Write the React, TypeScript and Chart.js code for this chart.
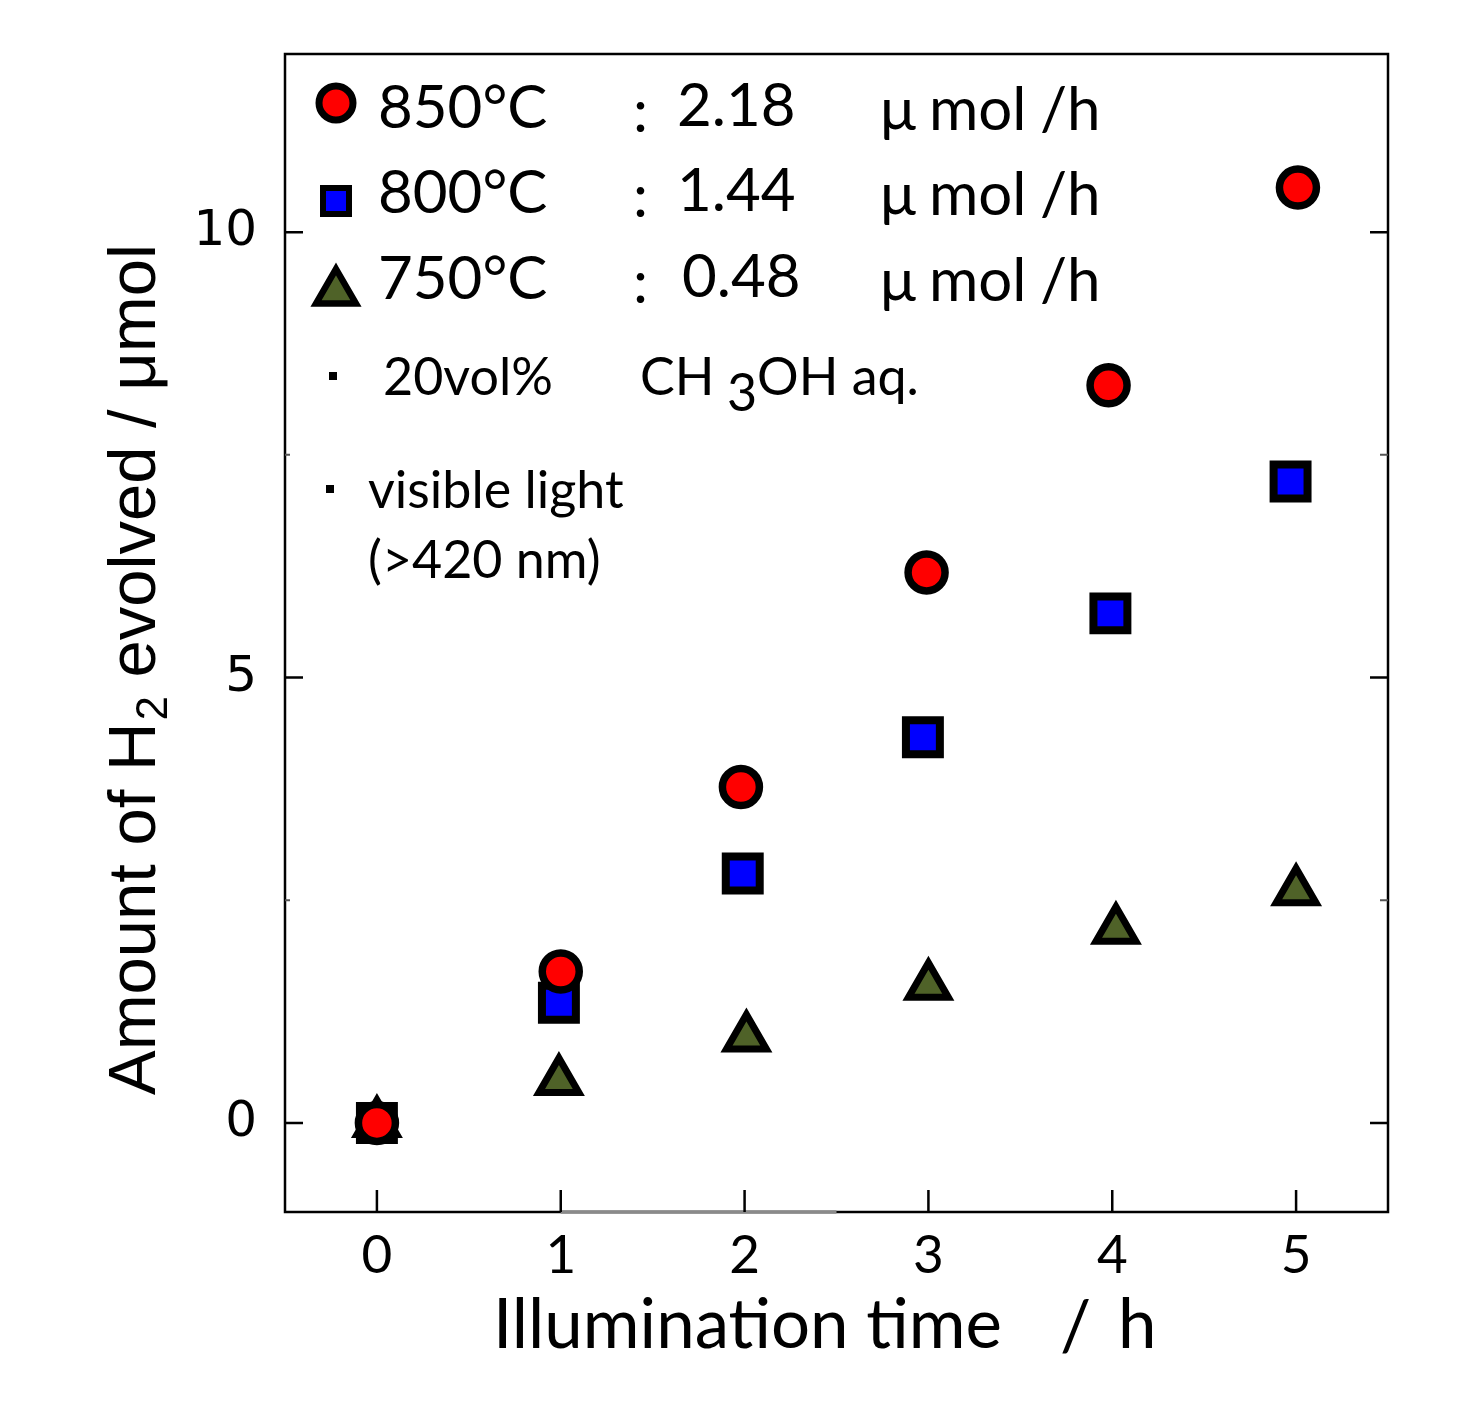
import React, { useEffect, useRef } from "react";
import { Chart, registerables } from "chart.js";

Chart.register(...registerables);

// data (x = illumination time / h, y = H2 / umol)
const x850 = [0, 1.0, 1.98, 2.99, 3.98, 5.01];
const h2At850 = [0, 1.7, 3.77, 6.18, 8.28, 10.5];
const x800 = [0, 0.99, 1.99, 2.97, 3.99, 4.97];
const h2At800 = [0, 1.35, 2.8, 4.33, 5.72, 7.2];
const x750 = [0, 0.99, 2.01, 3.0, 4.02, 5.0];
const h2At750 = [0, 0.47, 0.96, 1.54, 2.17, 2.6];

const xTicks = [0, 1, 2, 3, 4, 5];
const yTicks = [0, 5, 10];
const yMinorTicks = [2.5, 7.5];

const seriesNames = ["850\u00b0C", "800\u00b0C", "750\u00b0C"];
const rates = ["2.18", "1.44", "0.48"];

const RED = "#ff0000";
const BLUE = "#0000ff";
const OLIVE = "#4f6228";
const CALIBRI = "Lato, 'Open Sans', sans-serif";
const ARIAL = "'Liberation Sans', Arial, sans-serif";

const toPoints = (xs: number[], ys: number[]) => xs.map((x, i) => ({ x, y: ys[i] }));

function marker(ctx: CanvasRenderingContext2D, kind: string, x: number, y: number, r: number, fill: string, lw: number) {
    ctx.save();
    ctx.beginPath();
    if (kind === "circle") {
        ctx.arc(x, y, r, 0, Math.PI * 2);
    } else if (kind === "rect") {
        ctx.rect(x - r, y - r, r * 2, r * 2);
    } else {
        ctx.moveTo(x, y - r);
        ctx.lineTo(x + r * 0.866, y + r / 2);
        ctx.lineTo(x - r * 0.866, y + r / 2);
        ctx.closePath();
    }
    ctx.fillStyle = fill;
    ctx.fill();
    ctx.lineWidth = lw;
    ctx.strokeStyle = "#000";
    ctx.lineJoin = "miter";
    ctx.stroke();
    ctx.restore();
}

const framePlugin = {
    id: "frame",
    beforeDatasetsDraw(chart: any) {
        const { ctx, chartArea: a, scales } = chart;
        const xs = scales.x;
        const ys = scales.y;
        ctx.save();
        ctx.strokeStyle = "#000";
        ctx.lineWidth = 2.5;
        ctx.strokeRect(a.left, a.top, a.right - a.left, a.bottom - a.top);
        // greyish stretch of the bottom axis line
        ctx.strokeStyle = "#8a8a8a";
        ctx.lineWidth = 3.5;
        ctx.beginPath();
        ctx.moveTo(xs.getPixelForValue(1), a.bottom);
        ctx.lineTo(xs.getPixelForValue(2.5), a.bottom);
        ctx.stroke();

        ctx.strokeStyle = "#000";
        ctx.lineWidth = 2.5;
        ctx.beginPath();
        for (const v of yTicks) {
            const py = ys.getPixelForValue(v);
            ctx.moveTo(a.left, py);
            ctx.lineTo(a.left + 18, py);
            ctx.moveTo(a.right, py);
            ctx.lineTo(a.right - 18, py);
        }
        for (const v of xTicks) {
            const px = xs.getPixelForValue(v);
            ctx.moveTo(px, a.bottom);
            ctx.lineTo(px, a.bottom - 22);
        }
        ctx.stroke();
        ctx.strokeStyle = "#555";
        ctx.lineWidth = 2;
        ctx.beginPath();
        for (const v of yMinorTicks) {
            const py = ys.getPixelForValue(v);
            ctx.moveTo(a.left, py);
            ctx.lineTo(a.left + 5, py);
            ctx.moveTo(a.right, py);
            ctx.lineTo(a.right - 8, py);
        }
        ctx.stroke();
        ctx.restore();
    },
    afterDraw(chart: any) {
        const { ctx } = chart;
        const L = 285;
        const T = 54;
        ctx.save();
        ctx.fillStyle = "#000";
        ctx.textBaseline = "alphabetic";
        ctx.textAlign = "left";

        // legend rows
        const kinds = ["circle", "rect", "triangle"];
        const fills = [RED, BLUE, OLIVE];
        const sizes = [17, 13, 23];
        const widths = [7, 6, 6.5];
        const markerY = [49, 147, 238];
        const baselines = [74, 159, 245];
        for (let i = 0; i < 3; i++) {
            marker(ctx, kinds[i], L + 51, T + markerY[i], sizes[i], fills[i], widths[i]);
            ctx.font = `60px ${CALIBRI}`;
            ctx.fillText(seriesNames[i], L + 93, T + baselines[i]);
            ctx.fillText(":", L + 348, T + baselines[i] + 4);
            ctx.fillText(rates[i], L + (i === 2 ? 397 : 392), T + baselines[i] - 2);
            ctx.fillText("\u03bc", L + 595, T + baselines[i] + 2);
            ctx.fillText("mol", L + 644, T + baselines[i] + 2);
            ctx.fillText("/h", L + 755, T + baselines[i] + 2);
        }

        // notes
        ctx.fillRect(L + 44, T + 318, 8, 8);
        ctx.fillRect(L + 41, T + 431, 8, 8);
        ctx.font = `52px ${CALIBRI}`;
        ctx.fillText("20vol%", L + 98, T + 341);
        ctx.fillText("CH", L + 355, T + 341);
        ctx.fillText("3", L + 442, T + 357);
        ctx.fillText("OH aq.", L + 472, T + 341);
        ctx.fillText("visible light", L + 83, T + 454);
        ctx.fillText("(>420 nm)", L + 83, T + 524);

        // x title
        ctx.font = `69px ${CALIBRI}`;
        ctx.fillText("Illumination time", 493, 1348);
        ctx.fillText("/", 1060, 1350);
        ctx.fillText("h", 1118, 1348);

        // y title (rotated, with subscript)
        ctx.translate(155, 1095);
        ctx.rotate(-Math.PI / 2);
        ctx.font = `67px ${ARIAL}`;
        let cx = 0;
        const part1 = "Amount of H";
        ctx.fillText(part1, cx, 0);
        cx += ctx.measureText(part1).width;
        ctx.font = `44px ${ARIAL}`;
        ctx.fillText("2", cx + 2, 12);
        cx += ctx.measureText("2").width + 2;
        ctx.font = `67px ${ARIAL}`;
        ctx.fillText(" evolved / \u03bcmol", cx, 0);
        ctx.restore();
    },
};

export default function App() {
    const ref = useRef<HTMLCanvasElement | null>(null);

    useEffect(() => {
        if (!ref.current) return;

        const chart = new Chart(ref.current, {
            type: "scatter",
            data: {
                datasets: [
                    {
                        label: seriesNames[0],
                        data: toPoints(x850, h2At850),
                        pointStyle: "circle",
                        pointRadius: 18.5,
                        pointBackgroundColor: RED,
                        pointBorderColor: "#000",
                        pointBorderWidth: 7.5,
                    },
                    {
                        label: seriesNames[1],
                        data: toPoints(x800, h2At800),
                        pointStyle: "rect",
                        pointRadius: 24,
                        pointBackgroundColor: BLUE,
                        pointBorderColor: "#000",
                        pointBorderWidth: 8,
                    },
                    {
                        label: seriesNames[2],
                        data: toPoints(x750, h2At750),
                        pointStyle: "triangle",
                        pointRadius: 23,
                        pointBackgroundColor: OLIVE,
                        pointBorderColor: "#000",
                        pointBorderWidth: 7,
                    },
                ],
            },
            options: {
                animation: false,
                responsive: true,
                maintainAspectRatio: false,
                layout: { autoPadding: false, padding: { top: 54, right: 79, left: 0, bottom: 0 } },
                plugins: {
                    legend: { display: false },
                    tooltip: { enabled: false },
                },
                scales: {
                    x: {
                        type: "linear",
                        min: -0.5,
                        max: 5.5,
                        afterBuildTicks: (s: any) => {
                            s.ticks = xTicks.map((v) => ({ value: v }));
                        },
                        afterFit: (s: any) => {
                            s.height = 201;
                            s.paddingLeft = 0;
                            s.paddingRight = 0;
                        },
                        grid: { display: false, drawTicks: false },
                        border: { display: false },
                        ticks: {
                            color: "#000",
                            padding: 12,
                            maxRotation: 0,
                            font: { family: CALIBRI, size: 53 },
                        },
                    },
                    y: {
                        type: "linear",
                        min: -1,
                        max: 12,
                        afterBuildTicks: (s: any) => {
                            s.ticks = yTicks.map((v) => ({ value: v }));
                        },
                        afterFit: (s: any) => {
                            s.width = 285;
                            s.paddingTop = 0;
                            s.paddingBottom = 0;
                        },
                        grid: { display: false, drawTicks: false },
                        border: { display: false },
                        ticks: {
                            color: "#000",
                            padding: 28,
                            font: { family: "'DejaVu Sans', Verdana, sans-serif", size: 50 },
                        },
                    },
                },
            },
            plugins: [framePlugin],
        });

        return () => chart.destroy();
    }, []);

    return (
        <div style={{ position: "fixed", left: 0, top: 0, width: 1467, height: 1413, background: "#fff" }}>
            <canvas ref={ref} />
        </div>
    );
}
